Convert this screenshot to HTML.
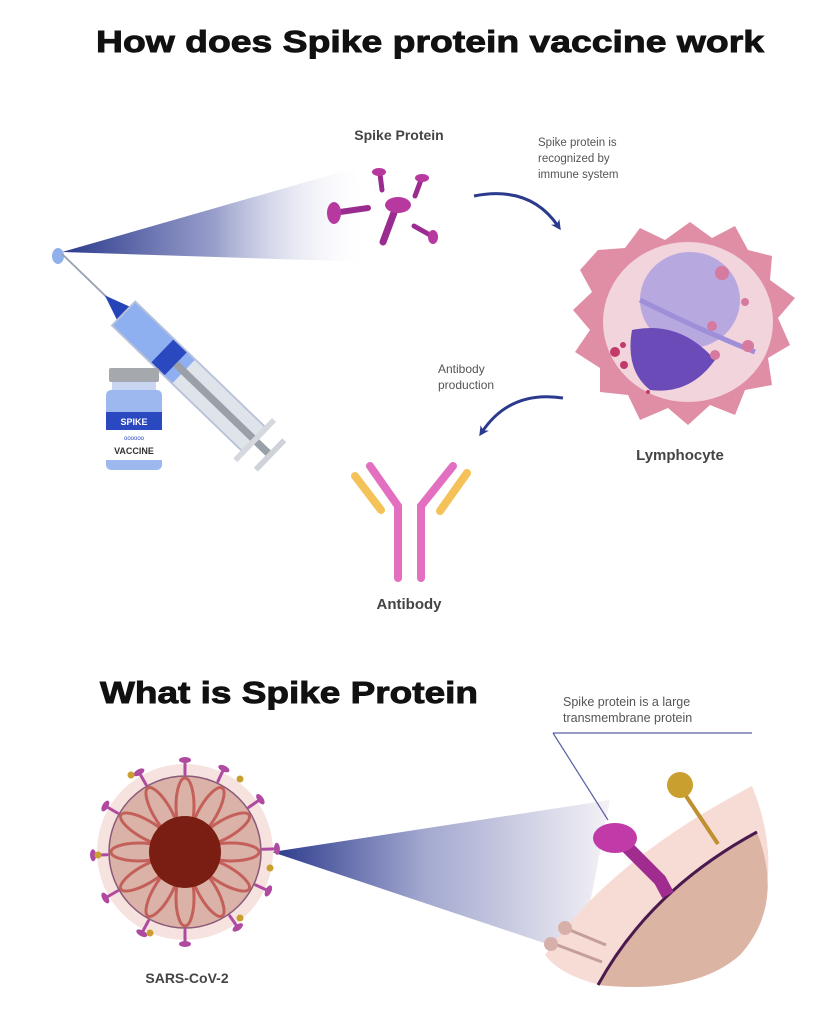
<!DOCTYPE html>
<html><head><meta charset="utf-8"><style>
html,body{margin:0;padding:0;background:#fff;}
svg{display:block;font-family:"Liberation Sans",sans-serif;}
</style></head><body>
<svg width="813" height="1024" viewBox="0 0 813 1024" xmlns="http://www.w3.org/2000/svg">
<defs>
<linearGradient id="cone1" x1="0" y1="0" x2="1" y2="0">
<stop offset="0" stop-color="#2b3a8c"/><stop offset="0.5" stop-color="#9aa0cc"/><stop offset="1" stop-color="#ffffff" stop-opacity="0"/></linearGradient>
<linearGradient id="cone2" x1="0" y1="0" x2="1" y2="0">
<stop offset="0" stop-color="#2b3a8c"/><stop offset="0.45" stop-color="#a3a8cf"/><stop offset="1" stop-color="#f4f2f6"/></linearGradient>
<marker id="ah" markerWidth="10" markerHeight="10" refX="5" refY="5" orient="auto" markerUnits="userSpaceOnUse"><path d="M0,0 L10,5 L0,10 L3,5z" fill="#2b3a8c"/></marker>
</defs>

<text x="430" y="52" text-anchor="middle" font-size="31" font-weight="bold" fill="#111" stroke="#111" stroke-width="0.9" textLength="668" lengthAdjust="spacingAndGlyphs">How does Spike protein vaccine work</text>

<polygon points="62,252 355,168 370,262" fill="url(#cone1)"/>
<ellipse cx="58" cy="256" rx="6" ry="8" fill="#8fb0e8"/>

<g transform="translate(62,254) rotate(44) scale(0.93)">
<line x1="0" y1="0" x2="70" y2="0" stroke="#9aa3b5" stroke-width="2"/>
<polygon points="64,0 92,-10 92,10" fill="#2743b8"/>
<rect x="92" y="-18" width="90" height="36" fill="#8fb0f0"/>
<rect x="182" y="-18" width="105" height="36" fill="#dfe3ea"/>
<rect x="150" y="-18" width="20" height="36" fill="#2a48c0"/>
<rect x="92" y="-18" width="195" height="36" fill="none" stroke="#b8c2d8" stroke-width="2"/>
<rect x="170" y="-4" width="140" height="8" fill="#9aa0a8"/>
<rect x="285" y="-30" width="6" height="60" fill="#d5d8de"/>
<rect x="308" y="-22" width="6" height="44" fill="#cfd2d8"/>
</g>

<rect x="109" y="368" width="50" height="14" rx="2" fill="#a5a8ad"/>
<rect x="112" y="382" width="44" height="8" fill="#c8d6f2"/>
<rect x="106" y="390" width="56" height="80" rx="5" fill="#9cb8ef"/>
<rect x="106" y="412" width="56" height="18" fill="#2a48c0"/>
<text x="134" y="425" text-anchor="middle" font-size="9" font-weight="bold" fill="#fff">SPIKE</text>
<rect x="106" y="430" width="56" height="30" fill="#fff"/>
<text x="134" y="440" text-anchor="middle" font-size="6" fill="#2a48c0">oooooo</text>
<text x="134" y="454" text-anchor="middle" font-size="9" font-weight="bold" fill="#333">VACCINE</text>

<text x="399" y="140" text-anchor="middle" font-size="14" font-weight="bold" fill="#444">Spike Protein</text>
<g stroke="#9b2c8f" stroke-linecap="round" fill="#b7399f">
<line x1="380" y1="174" x2="382" y2="190" stroke-width="5"/><ellipse cx="379" cy="172" rx="7" ry="4" stroke="none"/>
<line x1="421" y1="180" x2="415" y2="196" stroke-width="5"/><ellipse cx="422" cy="178" rx="7" ry="4" stroke="none"/>
<line x1="340" y1="212" x2="368" y2="208" stroke-width="6"/><ellipse cx="334" cy="213" rx="7" ry="11" stroke="none"/>
<line x1="395" y1="210" x2="383" y2="242" stroke-width="7"/><ellipse cx="398" cy="205" rx="13" ry="8" stroke="none"/>
<line x1="414" y1="226" x2="430" y2="235" stroke-width="5"/><ellipse cx="433" cy="237" rx="5" ry="7" stroke="none"/>
</g>

<text font-size="11.5" fill="#555"><tspan x="538" y="146">Spike protein is</tspan><tspan x="538" y="162">recognized by</tspan><tspan x="538" y="178">immune system</tspan></text>
<path d="M474,196 Q530,185 558,226" fill="none" stroke="#2b3a8c" stroke-width="3" marker-end="url(#ah)"/>

<path d="M598,250 L625,248 L640,228 L665,240 L690,222 L712,238 L735,226 L748,250 L772,256 L770,280 L795,298 L778,318 L790,345 L768,358 L772,385 L745,390 L735,415 L710,405 L688,425 L668,408 L640,420 L628,395 L600,392 L600,368 L575,352 L590,330 L573,310 L592,292 L580,270z" fill="#e08ea6"/>
<ellipse cx="688" cy="322" rx="85" ry="80" fill="#f1d4dc"/>
<ellipse cx="690" cy="300" rx="50" ry="48" fill="#b8a8e0"/>
<path d="M632,330 Q680,320 715,360 Q690,395 650,390 Q625,370 632,330z" fill="#6b4bb8"/>
<path d="M640,300 Q700,330 755,352" fill="none" stroke="#9f8fd8" stroke-width="5"/>
<g fill="#c23a6a"><circle cx="615" cy="352" r="5"/><circle cx="623" cy="345" r="3"/><circle cx="624" cy="365" r="4"/><circle cx="648" cy="392" r="2"/></g>
<g fill="#d67aa0"><circle cx="722" cy="273" r="7"/><circle cx="745" cy="302" r="4"/><circle cx="712" cy="326" r="5"/><circle cx="748" cy="346" r="6"/><circle cx="715" cy="355" r="5"/></g>
<text x="680" y="460" text-anchor="middle" font-size="15" font-weight="bold" fill="#444">Lymphocyte</text>

<text font-size="12" fill="#555"><tspan x="438" y="373">Antibody</tspan><tspan x="438" y="389">production</tspan></text>
<path d="M563,398 Q510,390 482,432" fill="none" stroke="#2b3a8c" stroke-width="3" marker-end="url(#ah)"/>

<g fill="none" stroke-linecap="round" stroke-width="8">
<path d="M370,466 L398,506 L398,578" stroke="#e26fc0"/>
<path d="M453,466 L421,506 L421,578" stroke="#e26fc0"/>
<path d="M355,476 L381,510" stroke="#f4c258"/>
<path d="M467,473 L440,511" stroke="#f4c258"/>
</g>
<text x="409" y="609" text-anchor="middle" font-size="15" font-weight="bold" fill="#444">Antibody</text>

<text x="100" y="703" font-size="31" font-weight="bold" fill="#111" stroke="#111" stroke-width="0.9" textLength="378" lengthAdjust="spacingAndGlyphs">What is Spike Protein</text>

<polygon points="272,852 610,800 580,955" fill="url(#cone2)"/>

<path d="M752,786 Q790,880 740,950 Q690,995 600,985 Q560,975 545,955 Q610,860 752,786z" fill="#f7dcd6"/>
<path d="M757,832 Q785,905 740,955 Q695,995 598,985 Q650,890 757,832z" fill="#dcb4a3"/>
<path d="M757,832 Q650,890 598,985" fill="none" stroke="#4a1a4f" stroke-width="3"/>
<line x1="553" y1="733" x2="752" y2="733" stroke="#5a5fa0" stroke-width="1.2"/>
<line x1="553" y1="733" x2="608" y2="820" stroke="#5a5fa0" stroke-width="1.2"/>
<text font-size="12.5" fill="#555"><tspan x="563" y="706">Spike protein is a large</tspan><tspan x="563" y="722">transmembrane protein</tspan></text>
<line x1="682" y1="790" x2="718" y2="844" stroke="#c09030" stroke-width="4"/>
<circle cx="680" cy="785" r="13" fill="#c9a030"/>
<path d="M620,840 L660,880 L668,895" fill="none" stroke="#a02c90" stroke-width="13"/>
<ellipse cx="615" cy="838" rx="22" ry="15" fill="#c03aa8"/>
<g stroke="#c49e98" stroke-width="3" fill="#d8b0aa">
<path d="M565,928 L606,945" fill="none"/><path d="M552,943 L602,962" fill="none"/>
<circle cx="565" cy="928" r="7" stroke="none"/><circle cx="551" cy="944" r="7" stroke="none"/>
</g>

<circle cx="185" cy="852" r="88" fill="#f6e2df"/>
<g stroke="#b04aa0" stroke-width="3" stroke-linecap="round">
<g id="sp"><line x1="0" y1="-78" x2="0" y2="-90"/><ellipse cx="0" cy="-92" rx="6" ry="3" fill="#b04aa0" stroke="none"/></g>
<use href="#sp" transform="translate(185,852)"/>
<use href="#sp" transform="translate(185,852) rotate(25)"/>
<use href="#sp" transform="translate(185,852) rotate(55)"/>
<use href="#sp" transform="translate(185,852) rotate(88)"/>
<use href="#sp" transform="translate(185,852) rotate(115)"/>
<use href="#sp" transform="translate(185,852) rotate(145)"/>
<use href="#sp" transform="translate(185,852) rotate(180)"/>
<use href="#sp" transform="translate(185,852) rotate(208)"/>
<use href="#sp" transform="translate(185,852) rotate(240)"/>
<use href="#sp" transform="translate(185,852) rotate(268)"/>
<use href="#sp" transform="translate(185,852) rotate(300)"/>
<use href="#sp" transform="translate(185,852) rotate(330)"/>
</g>
<g fill="#c9a030">
<circle cx="131" cy="775" r="3.5"/><circle cx="240" cy="779" r="3.5"/><circle cx="270" cy="868" r="3.5"/><circle cx="98" cy="855" r="3.5"/><circle cx="150" cy="933" r="3.5"/><circle cx="240" cy="918" r="3.5"/>
</g>
<circle cx="185" cy="852" r="76" fill="#dbb2a8" stroke="#8a5a7a" stroke-width="1.5"/>
<g fill="none" stroke="#c4605a" stroke-width="3">
<ellipse cx="185" cy="806" rx="9" ry="28"/>
<ellipse cx="185" cy="806" rx="9" ry="28" transform="rotate(30 185 852)"/>
<ellipse cx="185" cy="806" rx="9" ry="28" transform="rotate(60 185 852)"/>
<ellipse cx="185" cy="806" rx="9" ry="28" transform="rotate(90 185 852)"/>
<ellipse cx="185" cy="806" rx="9" ry="28" transform="rotate(120 185 852)"/>
<ellipse cx="185" cy="806" rx="9" ry="28" transform="rotate(150 185 852)"/>
<ellipse cx="185" cy="806" rx="9" ry="28" transform="rotate(180 185 852)"/>
<ellipse cx="185" cy="806" rx="9" ry="28" transform="rotate(210 185 852)"/>
<ellipse cx="185" cy="806" rx="9" ry="28" transform="rotate(240 185 852)"/>
<ellipse cx="185" cy="806" rx="9" ry="28" transform="rotate(270 185 852)"/>
<ellipse cx="185" cy="806" rx="9" ry="28" transform="rotate(300 185 852)"/>
<ellipse cx="185" cy="806" rx="9" ry="28" transform="rotate(330 185 852)"/>
</g>
<circle cx="185" cy="852" r="36" fill="#7a1e14"/>
<text x="187" y="983" text-anchor="middle" font-size="14" font-weight="bold" fill="#444">SARS-CoV-2</text>
</svg>
</body></html>
